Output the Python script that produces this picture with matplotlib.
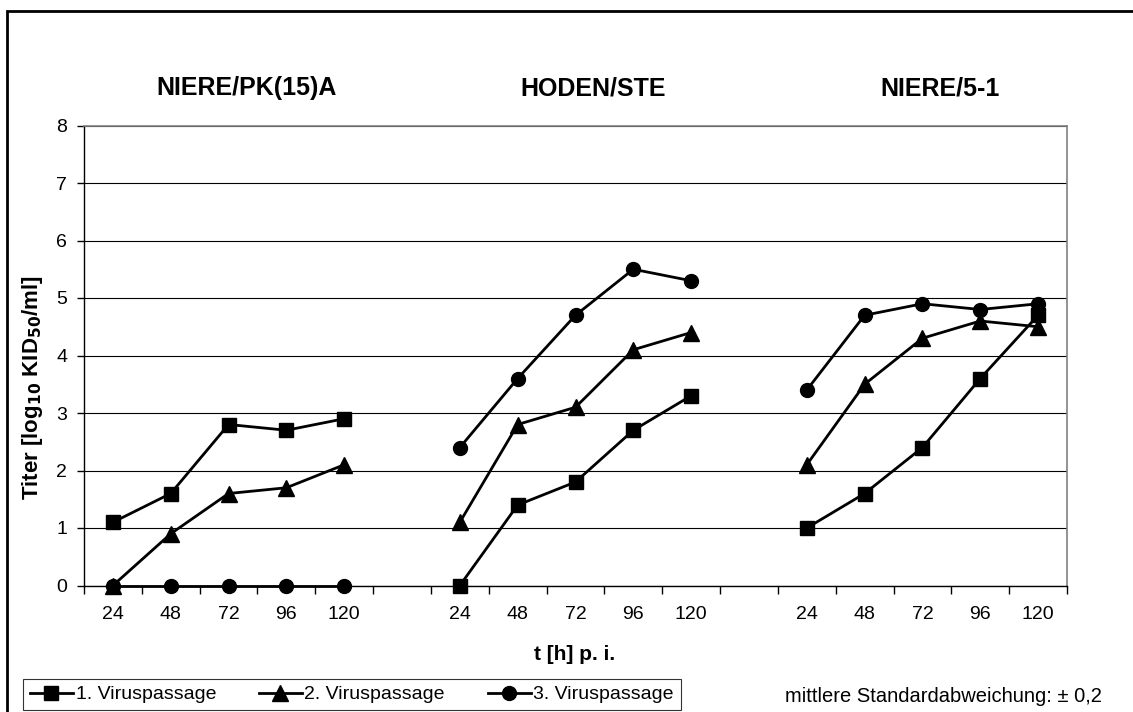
import numpy as np
import matplotlib.pyplot as plt
from matplotlib.patches import Rectangle

plt.rcParams['font.family'] = ['Liberation Sans', 'DejaVu Sans']

hours = ['24', '48', '72', '96', '120']
groups = ['NIERE/PK(15)A', 'HODEN/STE', 'NIERE/5-1']
series = ['1. Viruspassage', '2. Viruspassage', '3. Viruspassage']
markers = ['s', '^', 'o']

# titer per group, per passage
p1 = [[1.1, 1.6, 2.8, 2.7, 2.9], [0.0, 1.4, 1.8, 2.7, 3.3], [1.0, 1.6, 2.4, 3.6, 4.7]]
p2 = [[0.0, 0.9, 1.6, 1.7, 2.1], [1.1, 2.8, 3.1, 4.1, 4.4], [2.1, 3.5, 4.3, 4.6, 4.5]]
p3 = [[0.0, 0.0, 0.0, 0.0, 0.0], [2.4, 3.6, 4.7, 5.5, 5.3], [3.4, 4.7, 4.9, 4.8, 4.9]]
passages = [p1, p2, p3]

W, H = 1133, 712
fig = plt.figure(figsize=(W/100, H/100), dpi=100)
ax = fig.add_axes([84/W, 1-585.5/H, (1067-84)/W, 460/H])

n = len(hours)
gap = 1
handles = []
for s, data in enumerate(passages):
    for g in range(len(groups)):
        x = np.arange(n) + g*(n+gap)
        h, = ax.plot(x, data[g], color='black', lw=2, marker=markers[s],
                     ms=10 if s != 1 else 11, clip_on=False, zorder=3)
    handles.append(h)

ncat = len(groups)*n + (len(groups)-1)*gap
ax.set_xlim(-0.5, ncat-0.5)
ax.set_ylim(0, 8)
ax.set_yticks(range(0, 9))
ax.set_xticks(np.arange(-0.5, ncat, 1))
ax.set_xticklabels([])
centers = [g*(n+gap)+i for g in range(len(groups)) for i in range(n)]
ax.set_xticks(centers, minor=True)
ax.set_xticklabels(hours*len(groups), minor=True)
ax.tick_params(axis='x', which='minor', length=0, pad=15, labelsize=14)
ax.tick_params(axis='x', which='major', length=6, width=1, direction='out')
ax.tick_params(axis='y', length=5, width=1, direction='out', labelsize=14, pad=7)

ax.yaxis.grid(True, color='black', lw=0.8)
ax.set_axisbelow(True)
for sp in ['top', 'right']:
    ax.spines[sp].set_color('#808080')
    ax.spines[sp].set_linewidth(1.2)
for sp in ['left', 'bottom']:
    ax.spines[sp].set_color('black')
    ax.spines[sp].set_linewidth(1)

fig.text(33/W, 1-388/H, 'Titer [log$_{\\mathbf{10}}$ KID$_{\\mathbf{50}}$/ml]', rotation=90,
         ha='center', va='center', fontsize=16, fontweight='bold')
fig.text(575/W, 1-655/H, 't [h] p. i.', ha='center', va='center', fontsize=15, fontweight='bold')

title_x = [247, 593, 940]
for g, name in enumerate(groups):
    fig.text(title_x[g]/W, 1-88/H, name, ha='center', va='center',
             fontsize=18, fontweight='bold')

leg = fig.legend(handles, series, loc='upper left', ncol=3,
                 bbox_to_anchor=(23/W, 1-679/H), frameon=True, fancybox=False,
                 edgecolor='black', fontsize=14, handlelength=2.2, columnspacing=2.2,
                 handletextpad=0.15, borderpad=0.35, borderaxespad=0)
leg.get_frame().set_linewidth(0.8)

fig.text(1102/W, 1-696/H, 'mittlere Standardabweichung: ± 0,2', ha='right', va='center', fontsize=14.5)

fig.patches.append(Rectangle((7/W, -0.1), 1.2, 1.1-11/H, transform=fig.transFigure,
                             fill=False, edgecolor='black', lw=2))

fig.savefig('out.png', dpi=100)
